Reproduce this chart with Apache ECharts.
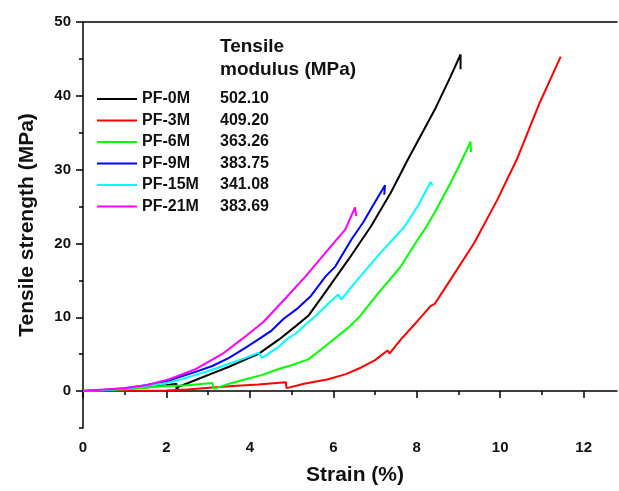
<!DOCTYPE html>
<html>
<head>
<meta charset="utf-8">
<script src="https://cdn.jsdelivr.net/npm/echarts@6/dist/echarts.min.js"></script>
<style>
  html, body { margin: 0; padding: 0; background: #fff; }
  #chart { width: 619px; height: 491px; }
</style>
</head>
<body>
<div id="chart"></div>
<script>
// strain (%) , tensile strength (MPa)
const pf0m = [[0,0],[0.5,0.1],[1,0.3],[1.5,0.5],[2,0.8],[2.24,1.0],[2.24,0.2],[2.3,0.6],[2.7,1.5],[3.1,2.4],[3.5,3.3],[3.9,4.3],[4.2,5.0],[4.7,7.0],[5.1,8.8],[5.4,10.2],[5.81,13.4],[6.36,17.8],[6.9,22.3],[7.38,26.9],[7.79,31.4],[8.02,33.8],[8.43,38.1],[8.81,42.6],[9.05,45.6],[9.05,43.6]];
const pf3m = [[0,0],[0.5,0.03],[1,0.05],[1.5,0.05],[2,0.08],[2.5,0.2],[3.1,0.5],[3.6,0.7],[4.2,0.9],[4.86,1.2],[4.88,0.4],[5.3,1.0],[5.88,1.6],[6.3,2.3],[6.67,3.2],[7.0,4.2],[7.3,5.5],[7.35,5.1],[7.62,7.0],[8.02,9.5],[8.33,11.5],[8.43,11.8],[8.81,15.1],[9.38,20.1],[9.93,25.9],[10.4,31.4],[10.95,39.1],[11.45,45.3]];
const pf6m = [[0,0],[0.5,0.1],[1,0.25],[1.5,0.45],[1.9,0.65],[2.5,0.8],[3.1,1.1],[3.14,0.3],[3.5,1.0],[3.9,1.6],[4.3,2.2],[4.69,3.0],[5.0,3.5],[5.4,4.3],[5.7,5.6],[6.05,7.2],[6.36,8.6],[6.6,9.9],[7.07,13.2],[7.62,16.9],[8.02,20.5],[8.19,21.9],[8.43,24.2],[8.81,28.2],[9.05,30.9],[9.29,33.8],[9.3,32.4]];
const pf9m = [[0,0],[0.5,0.15],[1,0.4],[1.5,0.8],[2,1.3],[2.31,1.9],[2.7,2.6],[3.1,3.4],[3.5,4.5],[3.9,5.9],[4.26,7.2],[4.52,8.2],[4.81,9.8],[5.12,11.1],[5.45,12.8],[5.81,15.5],[6.05,16.9],[6.43,20.5],[6.71,22.8],[6.99,25.5],[7.24,27.9],[7.22,26.6]];
const pf15m = [[0,0],[0.5,0.15],[1,0.35],[1.5,0.7],[2,1.1],[2.31,1.5],[2.7,2.2],[3.1,2.9],[3.5,3.7],[3.9,4.5],[4.21,5.2],[4.29,4.5],[4.69,6.0],[4.88,7.0],[5.1,7.8],[5.33,9.0],[5.6,10.3],[5.81,11.5],[6.12,13.1],[6.19,12.4],[6.52,14.7],[7.14,18.8],[7.71,22.3],[8.05,25.3],[8.33,28.3],[8.38,27.9]];
const pf21m = [[0,0],[0.5,0.2],[1,0.4],[1.52,0.8],[2.07,1.6],[2.71,3.0],[3.33,5.0],[3.8,7.0],[4.33,9.4],[4.76,12.0],[5.33,15.5],[5.88,19.2],[6.29,21.9],[6.52,24.9],[6.55,23.7]];

const names = ["PF-0M","PF-3M","PF-6M","PF-9M","PF-15M","PF-21M"];
const moduli = ["502.10","409.20","363.26","383.75","341.08","383.69"];
const colors = ["#000000","#ff0000","#00ff00","#0000ff","#00ffff","#ff00ff"];
const curves = [pf0m,pf3m,pf6m,pf9m,pf15m,pf21m];

const xLabels = [0,2,4,6,8,10,12];
const xMinor = [1,3,5,7,9,11];
const yLabels = [0,10,20,30,40,50];
const yMinor = [-5,5,15,25,35,45];

const font = "'Liberation Sans', Arial, sans-serif";
const axisColor = "#000";

const chart = echarts.init(document.getElementById("chart"));
const option = {
  animation: false,
  backgroundColor: "#fff",
  grid: { left: 83, right: 2, top: 22, bottom: 62 },
  legend: {
    data: names,
    orient: "vertical",
    left: 92,
    top: 86,
    icon: "rect",
    itemWidth: 40,
    itemHeight: 2,
    itemGap: 5.5,
    formatter: function (n) {
      return "{n|" + n + "}{v|" + moduli[names.indexOf(n)] + "}";
    },
    textStyle: {
      fontFamily: font, fontSize: 16, fontWeight: "bold", color: "#111",
      rich: {
        n: { width: 78, fontFamily: font, fontSize: 16, fontWeight: "bold", color: "#111" },
        v: { fontFamily: font, fontSize: 16, fontWeight: "bold", color: "#111" }
      }
    }
  },
  graphic: [
    { type: "text", left: 220, top: 37, style: { text: "Tensile", font: "bold 19px " + font, fill: "#111" } },
    { type: "text", left: 220, top: 60, style: { text: "modulus (MPa)", font: "bold 19px " + font, fill: "#111" } }
  ],
  xAxis: [
    {
      type: "value", min: 0, max: 12.8, position: "bottom",
      axisLine: { show: true, lineStyle: { color: axisColor, width: 1.5 } },
      axisTick: { show: true, length: 7, customValues: xLabels, lineStyle: { color: axisColor, width: 1.5 } },
      axisLabel: { customValues: xLabels, margin: 12, fontFamily: font, fontSize: 15, fontWeight: "bold", color: "#111" },
      splitLine: { show: false },
      name: "Strain (%)", nameLocation: "middle", nameGap: 37,
      nameTextStyle: { fontFamily: font, fontSize: 21, fontWeight: "bold", color: "#111", padding: [0, 0, 0, 10] }
    },
    {
      type: "value", min: 0, max: 12.8, position: "bottom",
      axisLine: { show: false },
      axisTick: { show: true, length: 4, customValues: xMinor, lineStyle: { color: axisColor, width: 1.5 } },
      axisLabel: { show: false },
      splitLine: { show: false }
    },
    {
      type: "value", min: 0, max: 12.8, position: "top",
      axisLine: { show: true, lineStyle: { color: axisColor, width: 1.5 } },
      axisTick: { show: false }, axisLabel: { show: false }, splitLine: { show: false }
    }
  ],
  yAxis: [
    {
      type: "value", min: -5, max: 50, position: "left",
      axisLine: { show: true, lineStyle: { color: axisColor, width: 1.5 } },
      axisTick: { show: true, length: 7, customValues: yLabels, lineStyle: { color: axisColor, width: 1.5 } },
      axisLabel: { customValues: yLabels, margin: 12, fontFamily: font, fontSize: 15, fontWeight: "bold", color: "#111" },
      splitLine: { show: false },
      name: "Tensile strength (MPa)", nameLocation: "middle", nameGap: 45,
      nameTextStyle: { fontFamily: font, fontSize: 21, fontWeight: "bold", color: "#111" }
    },
    {
      type: "value", min: -5, max: 50, position: "left",
      axisLine: { show: false },
      axisTick: { show: true, length: 4, customValues: yMinor, lineStyle: { color: axisColor, width: 1.5 } },
      axisLabel: { show: false },
      splitLine: { show: false }
    }
  ],
  series: curves.map((d, i) => ({
    name: names[i],
    type: "line",
    data: d,
    xAxisIndex: 0,
    yAxisIndex: 0,
    symbol: "none",
    smooth: false,
    clip: true,
    itemStyle: { color: colors[i] },
    lineStyle: { color: colors[i], width: 2 }
  }))
};
chart.setOption(option);
</script>
</body>
</html>
